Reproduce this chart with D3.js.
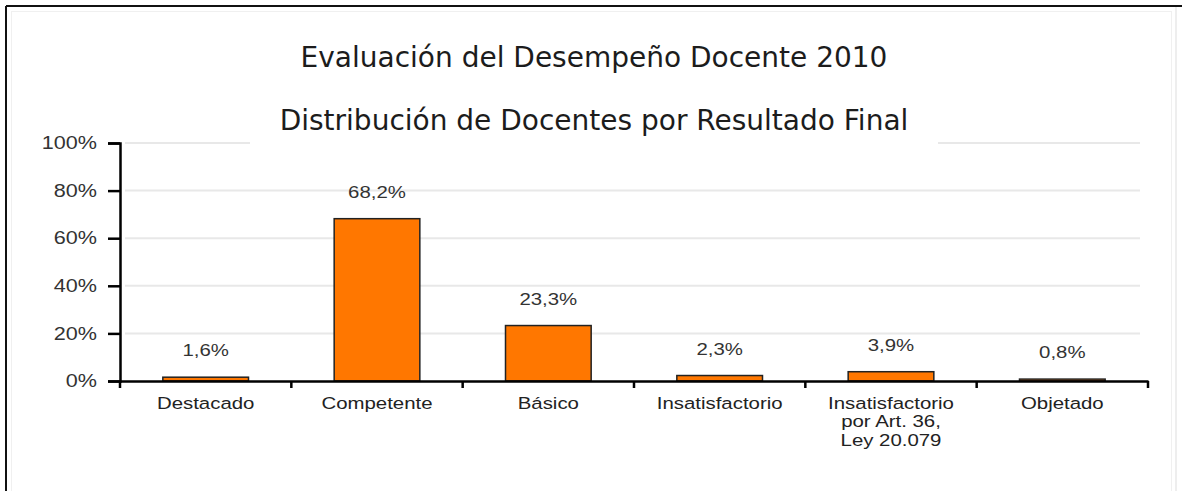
<!DOCTYPE html>
<html>
<head>
<meta charset="utf-8">
<script src="https://cdn.jsdelivr.net/npm/d3@7"></script>
<style>
  body { margin: 0; background: #fff; }
  svg { display: block; }
</style>
</head>
<body>
<script>
"use strict";

// chart data
const categories = ["Destacado", "Competente", "Básico", "Insatisfactorio", "Insatisfactorio|por Art. 36,|Ley 20.079", "Objetado"];
const values = [1.6, 68.2, 23.3, 2.3, 3.9, 0.8];
const valueLabels = ["1,6%", "68,2%", "23,3%", "2,3%", "3,9%", "0,8%"];
const yTicks = [0, 20, 40, 60, 80, 100];
const titleLines = ["Evaluación del Desempeño Docente 2010", "Distribución de Docentes por Resultado Final"];

const w = 1182;
const h = 491;
const plotLeft = 120;
const plotRight = 1148;
const plotTop = 143;
const plotBottom = 381;

// the chart text in the original is a bit wider than Arial
const textStretch = 1.2;
const labelFont = "Liberation Sans, Arial, sans-serif";

const stretchText = (sel) => {
  sel.each(function () {
    const t = d3.select(this);
    const x = +t.attr("x") || 0;
    t.attr("x", x / textStretch).attr("transform", `scale(${textStretch},1)`);
    t.selectAll("tspan").attr("x", (+t.attr("x") || 0));
  });
};

const svg = d3.select("body").append("svg").attr("width", w).attr("height", h);

// frame
svg.append("rect").attr("x", 0).attr("y", 0).attr("width", w).attr("height", h).attr("fill", "#fff");
svg.append("line").attr("x1", 6).attr("x2", w).attr("y1", 6).attr("y2", 6).attr("stroke", "#111").attr("stroke-width", 2);
svg.append("line").attr("x1", 6).attr("x2", 6).attr("y1", 6).attr("y2", h).attr("stroke", "#111").attr("stroke-width", 2);
svg.append("line").attr("x1", 1176).attr("x2", 1176).attr("y1", 7).attr("y2", h).attr("stroke", "#ddd").attr("stroke-width", 1);
svg.append("rect").attr("x", 11.5).attr("y", 11.5).attr("width", 1160).attr("height", h).attr("fill", "none").attr("stroke", "#f0f0f0");

//scales
const xScale = d3.scaleBand().domain(categories).range([plotLeft, plotRight]).paddingInner(0.5).paddingOuter(0.25);
const yScale = d3.scaleLinear().domain([0, 100]).range([plotBottom, plotTop]);

//gridlines
svg.append("g")
  .selectAll("line")
  .data(yTicks.filter((d) => d > 0))
  .enter()
  .append("line")
  .attr("x1", plotLeft + 5)
  .attr("x2", 1140)
  .attr("y1", (d) => yScale(d))
  .attr("y2", (d) => yScale(d))
  .attr("stroke", "#e8e8e8")
  .attr("stroke-width", 2);

//title box covers the top gridline
svg.append("rect").attr("x", 250).attr("y", 28).attr("width", 688).attr("height", 120).attr("fill", "#fff");

svg.append("g")
  .selectAll("text")
  .data(titleLines)
  .enter()
  .append("text")
  .attr("x", 594)
  .attr("y", (d, i) => (i === 0 ? 67 : 130))
  .attr("text-anchor", "middle")
  .attr("font-family", "DejaVu Sans, sans-serif")
  .attr("font-size", 28)
  .attr("fill", "#1c1c1c")
  .text((d) => d);

//y axis
const yAxis = d3.axisLeft(yScale).tickValues(yTicks).tickSize(12).tickPadding(11).tickFormat((d) => d + "%");
svg.append("g")
  .attr("transform", `translate(${plotLeft}, 0)`)
  .call(yAxis)
  .call((g) => g.select(".domain").attr("stroke", "#000").attr("stroke-width", 2.5))
  .call((g) => g.selectAll(".tick line").attr("stroke", "#000").attr("stroke-width", 2.5))
  .call((g) => g.selectAll(".tick text")
    .attr("font-family", labelFont)
    .attr("font-size", 18)
    .attr("fill", "#333")
    .call(stretchText));

//bars
svg.append("g")
  .selectAll("rect")
  .data(values)
  .enter()
  .append("rect")
  .attr("x", (d, i) => xScale(categories[i]))
  .attr("y", (d) => yScale(d))
  .attr("width", xScale.bandwidth())
  .attr("height", (d) => yScale(0) - yScale(d))
  .attr("fill", "#ff7700")
  .attr("stroke", "#222")
  .attr("stroke-width", 1.5);

//value labels
svg.append("g")
  .selectAll("text")
  .data(values)
  .enter()
  .append("text")
  .attr("x", (d, i) => xScale(categories[i]) + xScale.bandwidth() / 2)
  .attr("y", (d) => yScale(d) - 21)
  .attr("text-anchor", "middle")
  .attr("font-family", labelFont)
  .attr("font-size", 17)
  .attr("fill", "#333")
  .text((d, i) => valueLabels[i])
  .call(stretchText);

//x axis
const xAxis = d3.axisBottom(xScale).tickSize(0).tickPadding(16).tickFormat("");
const xg = svg.append("g")
  .attr("transform", `translate(0, ${plotBottom})`)
  .call(xAxis)
  .call((g) => g.select(".domain").attr("stroke", "#000").attr("stroke-width", 2.5));

xg.selectAll(".tick text")
  .attr("font-family", labelFont)
  .attr("font-size", 17)
  .attr("fill", "#222")
  .each(function (d) {
    const parts = d.split("|");
    d3.select(this)
      .selectAll("tspan")
      .data(parts)
      .enter()
      .append("tspan")
      .attr("x", 0)
      .attr("dy", (p, i) => (i === 0 ? "0.71em" : "1.08em"))
      .text((p) => p);
  })
  .call(stretchText);

//boundary ticks between bands
const boundaries = categories.map((c) => xScale(c) - xScale.step() * 0.25).concat([plotRight]);
xg.selectAll(".bound")
  .data(boundaries)
  .enter()
  .append("line")
  .attr("class", "bound")
  .attr("x1", (d) => d)
  .attr("x2", (d) => d)
  .attr("y1", 0)
  .attr("y2", 7)
  .attr("stroke", "#000")
  .attr("stroke-width", 2.5);
</script>
</body>
</html>
